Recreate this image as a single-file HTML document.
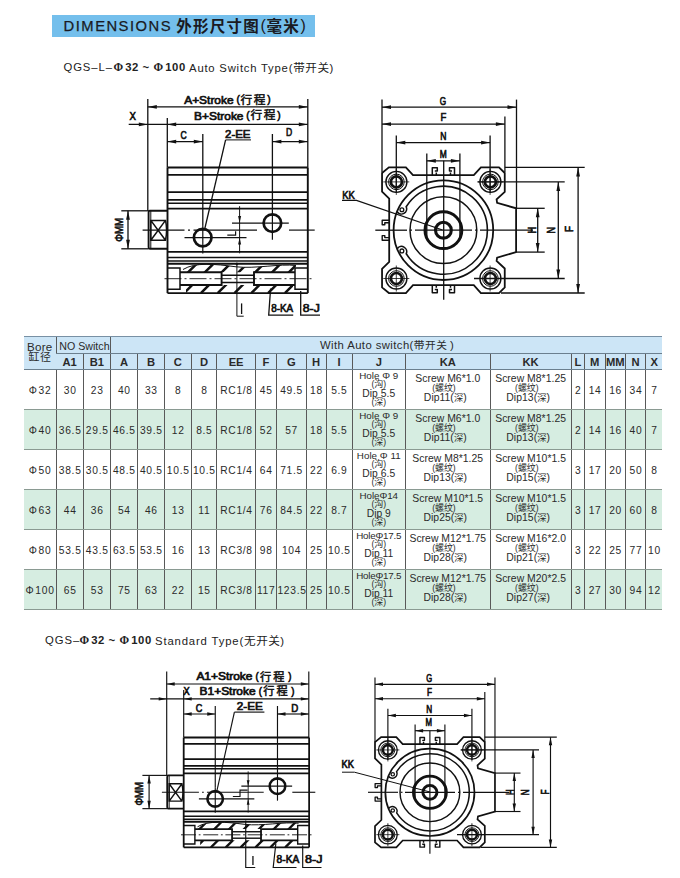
<!DOCTYPE html>
<html lang="en"><head><meta charset="utf-8"><title>DIMENSIONS</title>
<style>
html,body{margin:0;padding:0;background:#fff}
body{width:680px;height:878px;position:relative;overflow:hidden;font-family:"Liberation Sans",sans-serif;color:#222}
.banner{position:absolute;left:51.5px;top:15px;width:263.5px;height:21.8px;background:#74bfec}
.bt{position:absolute;left:63.6px;top:17.7px;font-size:14.8px;letter-spacing:1.47px;color:#1a1a22;white-space:nowrap;line-height:17px;-webkit-text-stroke:.25px #1a1a22}
.bc{position:absolute;left:176.2px;top:17.6px;white-space:nowrap;font-size:16px;line-height:17px;color:#1a1a22}
.bc .c{font-family:"Liberation Sans","Noto Sans CJK SC",sans-serif;font-size:15.5px;letter-spacing:1.25px;font-weight:bold;color:#1a1a22}
.bc .p{font-size:16px;letter-spacing:0;margin:0 .7px 0 .5px;position:relative;top:-.4px}
.sub{position:absolute;white-space:nowrap;font-size:11.3px;line-height:13px;color:#222;letter-spacing:.5px}
.sub span.s{display:inline-block;vertical-align:top}
.sub b{font-weight:bold;letter-spacing:.55px}
.sub .phi{font-family:"Liberation Serif",serif;font-weight:bold;font-size:11.6px;margin-right:1.6px}
.sub .c{font-family:"Liberation Sans","Noto Sans CJK SC",sans-serif;font-size:11.6px;letter-spacing:.5px;color:#222}
svg.draw{position:absolute;left:0;top:0}
svg.draw text{font-family:"Liberation Sans","Noto Sans CJK SC",sans-serif}
table.t{position:absolute;left:23.75px;top:336.3px;width:638.25px;border-collapse:collapse;table-layout:fixed;font-size:10.6px;color:#2a2a2a}
table.t th,table.t td{padding:0;text-align:center;vertical-align:middle;border-left:1px solid #595959;overflow:visible;white-space:nowrap}
table.t tr>*:first-child{border-left:none}
table.t tr.h1 th{height:15.4px;background:#cce5f6;font-weight:normal;font-size:11.3px;border-top:1px solid #7890a4;border-bottom:1px solid #6b7f8e}
table.t tr.h2 th{height:15.6px;background:#cce5f6;font-weight:bold;font-size:11.2px;border-bottom:1px solid #6b7f8e}
table.t tr.h2 th span{position:relative;top:.3px}
table.t th.bore{border-bottom:1px solid #6b7f8e;vertical-align:top}
table.t th.bore .b1{font-size:11.6px;line-height:11px;letter-spacing:.3px;margin-top:3.5px}
table.t th.bore .b2{line-height:10px;height:11px;margin-top:.2px}
table.t th.ws{text-align:left}
.wst{position:relative;left:209px;letter-spacing:.42px}
table.t th.ns span{display:inline-block;transform:scaleX(.92);transform-origin:50% 50%;position:relative;top:.3px;font-size:11.6px}
table.t tr.w td,table.t tr.g td{height:37.6px;padding-top:1.4px;border-bottom:1px solid #8a9a92}
table.t tr.w td.j,table.t tr.g td.j,table.t tr.w td.k,table.t tr.g td.k{height:39px;padding-top:0}
table.t tr.g td{background:#d6ede1}
table.t td{letter-spacing:.72px;text-indent:.7px;font-size:10.25px}
span.cj{font-family:"Liberation Sans","Noto Sans CJK SC",sans-serif;color:#2a2a2a;font-weight:normal}
span.cb{font-size:10.9px;letter-spacing:.6px;margin-left:.3px}
span.ch{font-size:10.7px;letter-spacing:.55px}
span.cs{font-size:9px;letter-spacing:-.1px}
.ph{margin-right:.9px}
.ph2{margin:0 1.5px}
td.j,td.k{vertical-align:top !important}
.jj,.kk{position:relative;height:39px}
.jj>div,.kk>div{position:absolute;left:0;right:0;text-align:center;white-space:nowrap}
td.j{font-size:9.8px !important;letter-spacing:.02px !important;text-indent:0 !important}
.jj .l1{top:1.0px;line-height:10px}
.jj .l2{top:9.9px;line-height:9px;font-size:8.6px}
.jj .l3{top:18.7px;line-height:10px;font-size:10.3px}
.jj .l4{top:27.6px;line-height:9px;font-size:8.6px}
td.k{font-size:10.4px !important;letter-spacing:.03px !important;text-indent:0 !important}
.kk .k1{top:3.85px;line-height:10px}
.kk .k2{top:13.75px;line-height:9px;font-size:8.6px;left:-7.6px}
.kk .k3{top:23.2px;line-height:10px;left:-5px}
.kk .k3 span.cs{font-size:9.4px}
</style></head>
<body>
<div class="banner"></div>
<div class="bt">DIMENSIONS</div>
<div class="bc"><span class="c">外形尺寸图</span><span class="p">(</span><span class="c">毫米</span><span class="p">)</span></div>
<div class="sub" style="left:63.4px;top:60.7px"><span class="s" style="width:50.1px;letter-spacing:.95px">QGS–L–</span><span class="s" style="width:75.6px"><b><span class="phi">Φ</span>32 ~ <span class="phi">Φ</span>100</b></span><span class="s" style="letter-spacing:.78px">Auto Switch Type(<span class="c">带开关</span>)</span></div>
<div class="sub" style="left:45px;top:634px"><span class="s" style="width:34.5px;letter-spacing:.95px">QGS–</span><span class="s" style="width:75.6px"><b><span class="phi">Φ</span>32 ~ <span class="phi">Φ</span>100</b></span><span class="s" style="letter-spacing:.85px">Standard Type(<span class="c">无开关</span>)</span></div>
<table class="t"><colgroup>
<col style="width:32.50px">
<col style="width:27.15px">
<col style="width:27.10px">
<col style="width:27.00px">
<col style="width:27.00px">
<col style="width:26.75px">
<col style="width:25.50px">
<col style="width:38.75px">
<col style="width:20.75px">
<col style="width:30.00px">
<col style="width:19.75px">
<col style="width:26.00px">
<col style="width:53.50px">
<col style="width:84.50px">
<col style="width:81.25px">
<col style="width:13.25px">
<col style="width:20.50px">
<col style="width:20.50px">
<col style="width:20.25px">
<col style="width:16.25px">
</colgroup>
<tr class="h1"><th rowspan="2" class="bore"><div class="b1">Bore</div><div class="b2"><span class="cj cb">缸径</span></div></th><th colspan="2" class="ns"><span>NO Switch</span></th><th colspan="17" class="ws"><span class="wst">With Auto switch(<span class="cj ch">带开关</span><span style="margin-left:2.6px">)</span></span></th></tr>
<tr class="h2"><th><span>A1</span></th><th><span>B1</span></th><th><span>A</span></th><th><span>B</span></th><th><span>C</span></th><th><span>D</span></th><th><span>EE</span></th><th><span>F</span></th><th><span>G</span></th><th><span>H</span></th><th><span>I</span></th><th><span>J</span></th><th><span>KA</span></th><th><span>KK</span></th><th><span>L</span></th><th><span>M</span></th><th><span>MM</span></th><th><span>N</span></th><th><span>X</span></th></tr>
<tr class="w"><td class="bo"><span class="ph">Φ</span>32</td><td>30</td><td>23</td><td>40</td><td>33</td><td>8</td><td>8</td><td>RC1/8</td><td>45</td><td>49.5</td><td>18</td><td>5.5</td><td class="j"><div class="jj"><div class="l1">Hole Φ 9</div><div class="l2">(<span class="cj cs">沟</span>)</div><div class="l3">Dip 5.5</div><div class="l4">(<span class="cj cs">深</span>)</div></div></td><td class="k"><div class="kk"><div class="k1">Screw M6*1.0</div><div class="k2">(<span class="cj cs">螺纹</span>)</div><div class="k3">Dip11(<span class="cj cs">深</span>)</div></div></td><td class="k"><div class="kk"><div class="k1">Screw M8*1.25</div><div class="k2">(<span class="cj cs">螺纹</span>)</div><div class="k3">Dip13(<span class="cj cs">深</span>)</div></div></td><td>2</td><td>14</td><td>16</td><td>34</td><td>7</td></tr>
<tr class="g"><td class="bo"><span class="ph">Φ</span>40</td><td>36.5</td><td>29.5</td><td>46.5</td><td>39.5</td><td>12</td><td>8.5</td><td>RC1/8</td><td>52</td><td>57</td><td>18</td><td>5.5</td><td class="j"><div class="jj"><div class="l1">Hole Φ 9</div><div class="l2">(<span class="cj cs">沟</span>)</div><div class="l3">Dip 5.5</div><div class="l4">(<span class="cj cs">深</span>)</div></div></td><td class="k"><div class="kk"><div class="k1">Screw M6*1.0</div><div class="k2">(<span class="cj cs">螺纹</span>)</div><div class="k3">Dip11(<span class="cj cs">深</span>)</div></div></td><td class="k"><div class="kk"><div class="k1">Screw M8*1.25</div><div class="k2">(<span class="cj cs">螺纹</span>)</div><div class="k3">Dip13(<span class="cj cs">深</span>)</div></div></td><td>2</td><td>14</td><td>16</td><td>40</td><td>7</td></tr>
<tr class="w"><td class="bo"><span class="ph">Φ</span>50</td><td>38.5</td><td>30.5</td><td>48.5</td><td>40.5</td><td>10.5</td><td>10.5</td><td>RC1/4</td><td>64</td><td>71.5</td><td>22</td><td>6.9</td><td class="j"><div class="jj"><div class="l1">Hole Φ 11</div><div class="l2">(<span class="cj cs">沟</span>)</div><div class="l3">Dip 6.5</div><div class="l4">(<span class="cj cs">深</span>)</div></div></td><td class="k"><div class="kk"><div class="k1">Screw M8*1.25</div><div class="k2">(<span class="cj cs">螺纹</span>)</div><div class="k3">Dip13(<span class="cj cs">深</span>)</div></div></td><td class="k"><div class="kk"><div class="k1">Screw M10*1.5</div><div class="k2">(<span class="cj cs">螺纹</span>)</div><div class="k3">Dip15(<span class="cj cs">深</span>)</div></div></td><td>3</td><td>17</td><td>20</td><td>50</td><td>8</td></tr>
<tr class="g"><td class="bo"><span class="ph">Φ</span>63</td><td>44</td><td>36</td><td>54</td><td>46</td><td>13</td><td>11</td><td>RC1/4</td><td>76</td><td>84.5</td><td>22</td><td>8.7</td><td class="j"><div class="jj"><div class="l1" style="letter-spacing:-.08px">HoleΦ14</div><div class="l2">(<span class="cj cs">沟</span>)</div><div class="l3">Dip 9</div><div class="l4">(<span class="cj cs">深</span>)</div></div></td><td class="k"><div class="kk"><div class="k1">Screw M10*1.5</div><div class="k2">(<span class="cj cs">螺纹</span>)</div><div class="k3">Dip25(<span class="cj cs">深</span>)</div></div></td><td class="k"><div class="kk"><div class="k1">Screw M10*1.5</div><div class="k2">(<span class="cj cs">螺纹</span>)</div><div class="k3">Dip15(<span class="cj cs">深</span>)</div></div></td><td>3</td><td>17</td><td>20</td><td>60</td><td>8</td></tr>
<tr class="w"><td class="bo"><span class="ph">Φ</span>80</td><td>53.5</td><td>43.5</td><td>63.5</td><td>53.5</td><td>16</td><td>13</td><td>RC3/8</td><td>98</td><td>104</td><td>25</td><td>10.5</td><td class="j"><div class="jj"><div class="l1" style="letter-spacing:-.2px">HoleΦ17.5</div><div class="l2">(<span class="cj cs">沟</span>)</div><div class="l3">Dip 11</div><div class="l4">(<span class="cj cs">深</span>)</div></div></td><td class="k"><div class="kk"><div class="k1">Screw M12*1.75</div><div class="k2">(<span class="cj cs">螺纹</span>)</div><div class="k3">Dip28(<span class="cj cs">深</span>)</div></div></td><td class="k"><div class="kk"><div class="k1">Screw M16*2.0</div><div class="k2">(<span class="cj cs">螺纹</span>)</div><div class="k3">Dip21(<span class="cj cs">深</span>)</div></div></td><td>3</td><td>22</td><td>25</td><td>77</td><td>10</td></tr>
<tr class="g"><td class="bo"><span class="ph">Φ</span>100</td><td>65</td><td>53</td><td>75</td><td>63</td><td>22</td><td>15</td><td>RC3/8</td><td>117</td><td>123.5</td><td>25</td><td>10.5</td><td class="j"><div class="jj"><div class="l1" style="letter-spacing:-.2px">HoleΦ17.5</div><div class="l2">(<span class="cj cs">沟</span>)</div><div class="l3">Dip 11</div><div class="l4">(<span class="cj cs">深</span>)</div></div></td><td class="k"><div class="kk"><div class="k1">Screw M12*1.75</div><div class="k2">(<span class="cj cs">螺纹</span>)</div><div class="k3">Dip28(<span class="cj cs">深</span>)</div></div></td><td class="k"><div class="kk"><div class="k1">Screw M20*2.5</div><div class="k2">(<span class="cj cs">螺纹</span>)</div><div class="k3">Dip27(<span class="cj cs">深</span>)</div></div></td><td>3</td><td>27</td><td>30</td><td>94</td><td>12</td></tr>
</table>
<svg class="draw" width="680" height="878" viewBox="0 0 680 878">
<line x1="167.50" y1="167.50" x2="307.80" y2="167.50" stroke="#111" stroke-width="1.9"/>
<line x1="167.50" y1="174.85" x2="307.80" y2="174.85" stroke="#111" stroke-width="1.9"/>
<line x1="167.50" y1="192.10" x2="307.80" y2="192.10" stroke="#111" stroke-width="1.9"/>
<line x1="167.50" y1="199.90" x2="307.80" y2="199.90" stroke="#111" stroke-width="1.9"/>
<line x1="167.50" y1="203.20" x2="307.80" y2="203.20" stroke="#111" stroke-width="1.5"/>
<line x1="167.50" y1="208.60" x2="307.80" y2="208.60" stroke="#111" stroke-width="1.9"/>
<line x1="167.50" y1="251.90" x2="307.80" y2="251.90" stroke="#111" stroke-width="1.9"/>
<line x1="167.50" y1="257.50" x2="307.80" y2="257.50" stroke="#111" stroke-width="1.5"/>
<line x1="167.50" y1="261.00" x2="307.80" y2="261.00" stroke="#111" stroke-width="1.5"/>
<line x1="167.50" y1="263.80" x2="307.80" y2="263.80" stroke="#111" stroke-width="1.9"/>
<line x1="167.50" y1="293.10" x2="307.80" y2="293.10" stroke="#111" stroke-width="1.9"/>
<line x1="167.50" y1="167.50" x2="167.50" y2="293.10" stroke="#111" stroke-width="1.9"/>
<line x1="307.80" y1="167.50" x2="307.80" y2="293.10" stroke="#111" stroke-width="1.9"/>
<circle cx="202.70" cy="237.60" r="8.80" fill="none" stroke="#111" stroke-width="2.7"/>
<circle cx="272.40" cy="223.10" r="8.80" fill="none" stroke="#111" stroke-width="2.7"/>
<line x1="142.60" y1="230.10" x2="184.50" y2="230.10" stroke="#111" stroke-width="1.2"/>
<line x1="188.00" y1="230.10" x2="190.00" y2="230.10" stroke="#111" stroke-width="1.2"/>
<line x1="193.50" y1="230.10" x2="257.00" y2="230.10" stroke="#111" stroke-width="1.2"/>
<line x1="289.00" y1="230.10" x2="314.70" y2="230.10" stroke="#111" stroke-width="1.2"/>
<line x1="184.50" y1="237.60" x2="246.50" y2="237.60" stroke="#111" stroke-width="1.2"/>
<line x1="232.00" y1="223.10" x2="288.80" y2="223.10" stroke="#111" stroke-width="1.2"/>
<line x1="202.80" y1="225.00" x2="202.80" y2="253.50" stroke="#111" stroke-width="1.2"/>
<line x1="272.40" y1="208.00" x2="272.40" y2="239.70" stroke="#111" stroke-width="1.2"/>
<path d="M227.30,235.20 H235.60 V231.30" fill="none" stroke="#111" stroke-width="1.2" />
<path d="M167.50,210.80 H149.80 Q148.60,210.80 148.60,212.30 V247.30 Q148.60,248.80 149.80,248.80 H167.50" fill="none" stroke="#111" stroke-width="1.9" />
<line x1="150.80" y1="210.80" x2="150.80" y2="248.80" stroke="#111" stroke-width="1.0"/>
<path d="M150.80,220.40 H165.50 Q167.70,230.30 165.50,240.20 H150.80 Z M150.80,220.40 L165.50,240.20 M165.50,220.40 L150.80,240.20" fill="none" stroke="#111" stroke-width="1.5" />
<path d="M167.50,268.00 H180.00 V289.30 H167.50" fill="none" stroke="#111" stroke-width="1.5" />
<path d="M307.80,268.00 H295.00 V289.30 H307.80" fill="none" stroke="#111" stroke-width="1.5" />
<path d="M180.00,272.20 H221.60 V285.00 H180.00" fill="none" stroke="#111" stroke-width="1.9" />
<path d="M295.00,272.20 H254.00 V285.00 H295.00" fill="none" stroke="#111" stroke-width="1.9" />
<line x1="221.60" y1="275.20" x2="254.00" y2="275.20" stroke="#111" stroke-width="1.5"/>
<line x1="221.60" y1="282.60" x2="254.00" y2="282.60" stroke="#111" stroke-width="1.5"/>
<line x1="164.50" y1="278.70" x2="311.80" y2="278.70" stroke="#111" stroke-width="0.9" stroke-dasharray="17.0 3.0 2.0 3.0"/>
<clipPath id="hc167167a"><path d="M183.00,269.50 C195.00,262.00 215.00,264.00 236.00,266.80 C255.00,269.00 280.00,263.50 296.00,265.50 L295.00,272.20 H180.00 Z"/></clipPath>
<clipPath id="hc167167b"><rect x="186.00" y="285.00" width="107.00" height="8.10"/></clipPath>
<path d="M150.50,293.10 L179.80,263.80 M167.30,293.10 L196.60,263.80 M184.10,293.10 L213.40,263.80 M200.90,293.10 L230.20,263.80 M217.70,293.10 L247.00,263.80 M234.50,293.10 L263.80,263.80 M251.30,293.10 L280.60,263.80 M268.10,293.10 L297.40,263.80 M284.90,293.10 L314.20,263.80 M301.70,293.10 L331.00,263.80 M318.50,293.10 L347.80,263.80" stroke="#111" stroke-width="2.50" clip-path="url(#hc167167a)"/>
<path d="M150.50,293.10 L179.80,263.80 M167.30,293.10 L196.60,263.80 M184.10,293.10 L213.40,263.80 M200.90,293.10 L230.20,263.80 M217.70,293.10 L247.00,263.80 M234.50,293.10 L263.80,263.80 M251.30,293.10 L280.60,263.80 M268.10,293.10 L297.40,263.80 M284.90,293.10 L314.20,263.80 M301.70,293.10 L331.00,263.80 M318.50,293.10 L347.80,263.80" stroke="#111" stroke-width="2.50" clip-path="url(#hc167167b)"/>
<path d="M183.00,269.50 C195.00,262.00 215.00,264.00 236.00,266.80 C255.00,269.00 280.00,263.50 296.00,265.50" fill="none" stroke="#111" stroke-width="1.0" />
<line x1="147.80" y1="99.00" x2="147.80" y2="210.80" stroke="#111" stroke-width="1.3"/>
<line x1="307.80" y1="99.00" x2="307.80" y2="167.50" stroke="#111" stroke-width="1.3"/>
<line x1="147.80" y1="106.90" x2="307.80" y2="106.90" stroke="#111" stroke-width="1.3"/>
<polygon points="147.80,106.90 156.80,105.00 156.80,108.80" fill="#111"/>
<polygon points="307.80,106.90 298.80,105.00 298.80,108.80" fill="#111"/>
<line x1="167.30" y1="118.00" x2="167.30" y2="167.50" stroke="#111" stroke-width="1.3"/>
<line x1="128.70" y1="124.40" x2="307.80" y2="124.40" stroke="#111" stroke-width="1.3"/>
<polygon points="147.80,124.40 138.80,122.50 138.80,126.30" fill="#111"/>
<polygon points="167.20,124.40 176.20,122.50 176.20,126.30" fill="#111"/>
<polygon points="307.80,124.40 298.80,122.50 298.80,126.30" fill="#111"/>
<line x1="202.80" y1="134.00" x2="202.80" y2="225.00" stroke="#111" stroke-width="1.3"/>
<line x1="167.20" y1="141.60" x2="202.80" y2="141.60" stroke="#111" stroke-width="1.3"/>
<polygon points="167.20,141.60 176.20,139.70 176.20,143.50" fill="#111"/>
<polygon points="202.80,141.60 193.80,139.70 193.80,143.50" fill="#111"/>
<line x1="272.40" y1="134.00" x2="272.40" y2="208.00" stroke="#111" stroke-width="1.3"/>
<line x1="272.40" y1="141.60" x2="307.80" y2="141.60" stroke="#111" stroke-width="1.3"/>
<polygon points="272.40,141.60 281.40,139.70 281.40,143.50" fill="#111"/>
<polygon points="307.80,141.60 298.80,139.70 298.80,143.50" fill="#111"/>
<line x1="225.60" y1="139.90" x2="251.00" y2="139.90" stroke="#111" stroke-width="1.0"/>
<line x1="225.60" y1="139.90" x2="204.60" y2="229.50" stroke="#111" stroke-width="1.3"/>
<line x1="121.30" y1="210.80" x2="148.60" y2="210.80" stroke="#111" stroke-width="1.3"/>
<line x1="121.30" y1="248.80" x2="148.60" y2="248.80" stroke="#111" stroke-width="1.3"/>
<line x1="128.00" y1="210.80" x2="128.00" y2="248.80" stroke="#111" stroke-width="1.3"/>
<polygon points="128.00,210.80 126.10,219.80 129.90,219.80" fill="#111"/>
<polygon points="128.00,248.80 126.10,239.80 129.90,239.80" fill="#111"/>
<line x1="239.60" y1="206.20" x2="239.60" y2="253.30" stroke="#111" stroke-width="1.0"/>
<polygon points="239.60,223.10 238.10,216.10 241.10,216.10" fill="#111"/>
<polygon points="239.60,237.60 238.10,244.60 241.10,244.60" fill="#111"/>
<path d="M236.9,262.5 V316.2 H243.7" fill="none" stroke="#111" stroke-width="1.0" />
<circle cx="236.90" cy="264.30" r="0.90" fill="#111" stroke="#111" stroke-width="0.5"/>
<line x1="241.60" y1="303.40" x2="241.60" y2="314.00" stroke="#111" stroke-width="1.3"/>
<path d="M270.6,288.5 L268.7,315.2 H293.2" fill="none" stroke="#111" stroke-width="1.3" />
<path d="M300.7,291 V315.2 H320" fill="none" stroke="#111" stroke-width="1.3" />
<text x="184.20" y="103.60" font-size="11.7" font-weight="normal" fill="#111" stroke="#111" stroke-width="0.7" textLength="49.40" lengthAdjust="spacingAndGlyphs">A+Stroke</text>
<text x="240.50" y="103.50" font-size="11.7" font-weight="normal" fill="#111" stroke="#111" stroke-width="0.5" letter-spacing="1.6">行程</text>
<text x="236.40" y="103.40" font-size="11.7" font-weight="normal" fill="#111" stroke="#111" stroke-width="0.7" textLength="3.40" lengthAdjust="spacingAndGlyphs">(</text>
<text x="267.30" y="103.40" font-size="11.7" font-weight="normal" fill="#111" stroke="#111" stroke-width="0.7" textLength="3.40" lengthAdjust="spacingAndGlyphs">)</text>
<text x="194.10" y="119.50" font-size="11.7" font-weight="normal" fill="#111" stroke="#111" stroke-width="0.7" textLength="49.40" lengthAdjust="spacingAndGlyphs">B+Stroke</text>
<text x="250.40" y="119.40" font-size="11.7" font-weight="normal" fill="#111" stroke="#111" stroke-width="0.5" letter-spacing="1.6">行程</text>
<text x="246.30" y="119.30" font-size="11.7" font-weight="normal" fill="#111" stroke="#111" stroke-width="0.7" textLength="3.40" lengthAdjust="spacingAndGlyphs">(</text>
<text x="277.20" y="119.30" font-size="11.7" font-weight="normal" fill="#111" stroke="#111" stroke-width="0.7" textLength="3.40" lengthAdjust="spacingAndGlyphs">)</text>
<text x="129.50" y="120.00" font-size="11.7" font-weight="normal" fill="#111" stroke="#111" stroke-width="0.7" textLength="6.40" lengthAdjust="spacingAndGlyphs">X</text>
<text x="180.50" y="138.60" font-size="11.7" font-weight="normal" fill="#111" stroke="#111" stroke-width="0.7" textLength="6.20" lengthAdjust="spacingAndGlyphs">C</text>
<text x="286.00" y="136.20" font-size="11.7" font-weight="normal" fill="#111" stroke="#111" stroke-width="0.7" textLength="6.20" lengthAdjust="spacingAndGlyphs">D</text>
<text x="225.00" y="138.20" font-size="11.7" font-weight="normal" fill="#111" stroke="#111" stroke-width="0.7" textLength="25.50" lengthAdjust="spacingAndGlyphs">2-EE</text>
<text x="342.30" y="199.00" font-size="11.7" font-weight="normal" fill="#111" stroke="#111" stroke-width="0.7" textLength="12.60" lengthAdjust="spacingAndGlyphs">KK</text>
<text x="271.20" y="311.60" font-size="11.7" font-weight="normal" fill="#111" stroke="#111" stroke-width="0.7" textLength="22.00" lengthAdjust="spacingAndGlyphs">8-KA</text>
<text x="302.80" y="311.60" font-size="11.7" font-weight="normal" fill="#111" stroke="#111" stroke-width="0.7" textLength="17.00" lengthAdjust="spacingAndGlyphs">8-J</text>
<text transform="translate(123.20,241.70) rotate(-90)" font-size="11.8" font-weight="normal" fill="#111" stroke="#111" stroke-width="0.7" textLength="23.80" lengthAdjust="spacingAndGlyphs">ΦMM</text>
<g transform="translate(443.40,230.20) scale(1.0000,1.0000)"><path d="M-61.35,-57.20 L-54.50,-62.85 L-37.50,-62.85 L-30.40,-55.00 L30.40,-55.00 L37.50,-62.85 L55.60,-62.85 L61.35,-57.20 L61.35,-38.30 L53.20,-30.80 L53.70,-27.40 L72.70,-21.90 L72.70,21.90 L53.70,27.40 L53.20,30.80 L61.35,38.30 L61.35,57.20 L55.60,62.85 L37.50,62.85 L30.40,55.00 L-30.40,55.00 L-37.50,62.85 L-54.50,62.85 L-61.35,57.20 L-61.35,38.60 L-54.20,31.60 L-54.20,-31.60 L-61.35,-38.60 Z" fill="none" stroke="#111" stroke-width="1.8" stroke-linejoin="miter"/>
<circle cx="0.00" cy="0.00" r="7.90" fill="none" stroke="#111" stroke-width="3.1"/>
<circle cx="0.00" cy="0.00" r="18.40" fill="none" stroke="#111" stroke-width="3.0"/>
<circle cx="0.00" cy="0.00" r="33.40" fill="none" stroke="#111" stroke-width="1.5"/>
<circle cx="0.00" cy="0.00" r="49.80" fill="none" stroke="#111" stroke-width="1.8"/>
<path d="M-46.22,18.53 A5.20,5.20 0 0 1 -37.16,23.56 A44.00,44.00 0 1 0 -37.22,-23.46 A5.20,5.20 0 0 1 -46.27,-18.42" fill="none" stroke="#111" stroke-width="1.6" />
<circle cx="-41.50" cy="-20.50" r="1.90" fill="none" stroke="#111" stroke-width="1.3"/>
<circle cx="-41.50" cy="20.70" r="1.90" fill="none" stroke="#111" stroke-width="1.3"/>
<circle cx="-47.00" cy="-48.30" r="10.50" fill="none" stroke="#111" stroke-width="1.4"/>
<circle cx="-47.00" cy="-48.30" r="7.80" fill="none" stroke="#111" stroke-width="1.0"/>
<circle cx="-47.00" cy="-48.30" r="5.50" fill="none" stroke="#111" stroke-width="2.7"/>
<circle cx="-47.00" cy="48.30" r="10.50" fill="none" stroke="#111" stroke-width="1.4"/>
<circle cx="-47.00" cy="48.30" r="7.80" fill="none" stroke="#111" stroke-width="1.0"/>
<circle cx="-47.00" cy="48.30" r="5.50" fill="none" stroke="#111" stroke-width="2.7"/>
<circle cx="47.00" cy="-48.30" r="10.50" fill="none" stroke="#111" stroke-width="1.4"/>
<circle cx="47.00" cy="-48.30" r="7.80" fill="none" stroke="#111" stroke-width="1.0"/>
<circle cx="47.00" cy="-48.30" r="5.50" fill="none" stroke="#111" stroke-width="2.7"/>
<circle cx="47.00" cy="48.30" r="10.50" fill="none" stroke="#111" stroke-width="1.4"/>
<circle cx="47.00" cy="48.30" r="7.80" fill="none" stroke="#111" stroke-width="1.0"/>
<circle cx="47.00" cy="48.30" r="5.50" fill="none" stroke="#111" stroke-width="2.7"/>
<path d="M-11.10,-55.00 V-62.55 H-6.10 V-59.25 H-8.60 M-7.10,-57.60 V-55.00" fill="none" stroke="#111" stroke-width="1.5" stroke-linejoin="round"/>
<path d="M11.10,-55.00 V-62.55 H6.10 V-59.25 H8.60 M7.10,-57.60 V-55.00" fill="none" stroke="#111" stroke-width="1.5" stroke-linejoin="round"/>
<path d="M-11.10,55.00 V62.55 H-6.10 V59.25 H-8.60 M-7.10,57.60 V55.00" fill="none" stroke="#111" stroke-width="1.5" stroke-linejoin="round"/>
<path d="M11.10,55.00 V62.55 H6.10 V59.25 H8.60 M7.10,57.60 V55.00" fill="none" stroke="#111" stroke-width="1.5" stroke-linejoin="round"/>
<path d="M-54.20,-10.00 H-61.20 V-5.40 H-58.60 V-7.40 H-54.20" fill="none" stroke="#111" stroke-width="1.4" stroke-linejoin="round"/>
<path d="M-54.20,10.00 H-61.20 V5.40 H-58.60 V7.40 H-54.20" fill="none" stroke="#111" stroke-width="1.4" stroke-linejoin="round"/></g>
<line x1="382.00" y1="99.60" x2="382.00" y2="172.00" stroke="#111" stroke-width="1.3"/>
<line x1="516.50" y1="99.60" x2="516.50" y2="208.30" stroke="#111" stroke-width="1.3"/>
<line x1="382.00" y1="107.20" x2="516.50" y2="107.20" stroke="#111" stroke-width="1.3"/>
<polygon points="382.00,107.20 391.00,105.30 391.00,109.10" fill="#111"/>
<polygon points="516.50,107.20 507.50,105.30 507.50,109.10" fill="#111"/>
<line x1="504.90" y1="116.50" x2="504.90" y2="172.00" stroke="#111" stroke-width="1.3"/>
<line x1="382.00" y1="124.10" x2="504.90" y2="124.10" stroke="#111" stroke-width="1.3"/>
<polygon points="382.00,124.10 391.00,122.20 391.00,126.00" fill="#111"/>
<polygon points="504.90,124.10 495.90,122.20 495.90,126.00" fill="#111"/>
<line x1="396.30" y1="135.50" x2="396.30" y2="193.00" stroke="#111" stroke-width="1.3"/>
<line x1="490.10" y1="135.50" x2="490.10" y2="193.00" stroke="#111" stroke-width="1.3"/>
<line x1="396.30" y1="142.60" x2="490.10" y2="142.60" stroke="#111" stroke-width="1.3"/>
<polygon points="396.30,142.60 405.30,140.70 405.30,144.50" fill="#111"/>
<polygon points="490.10,142.60 481.10,140.70 481.10,144.50" fill="#111"/>
<line x1="426.80" y1="153.50" x2="426.80" y2="237.00" stroke="#111" stroke-width="1.3"/>
<line x1="459.90" y1="153.50" x2="459.90" y2="237.00" stroke="#111" stroke-width="1.3"/>
<line x1="426.80" y1="160.80" x2="459.90" y2="160.80" stroke="#111" stroke-width="1.3"/>
<polygon points="426.80,160.80 435.80,158.90 435.80,162.70" fill="#111"/>
<polygon points="459.90,160.80 450.90,158.90 450.90,162.70" fill="#111"/>
<line x1="443.70" y1="160.80" x2="443.70" y2="299.80" stroke="#111" stroke-width="1.3"/>
<line x1="375.30" y1="230.20" x2="407.00" y2="230.20" stroke="#111" stroke-width="1.3"/>
<line x1="410.00" y1="230.20" x2="412.00" y2="230.20" stroke="#111" stroke-width="1.3"/>
<line x1="415.00" y1="230.20" x2="472.00" y2="230.20" stroke="#111" stroke-width="1.3"/>
<line x1="475.00" y1="230.20" x2="477.00" y2="230.20" stroke="#111" stroke-width="1.3"/>
<line x1="480.00" y1="230.20" x2="533.00" y2="230.20" stroke="#111" stroke-width="1.3"/>
<line x1="504.90" y1="167.40" x2="584.70" y2="167.40" stroke="#111" stroke-width="1.3"/>
<line x1="501.00" y1="293.00" x2="584.70" y2="293.00" stroke="#111" stroke-width="1.3"/>
<line x1="578.10" y1="167.40" x2="578.10" y2="293.00" stroke="#111" stroke-width="1.3"/>
<polygon points="578.10,167.40 576.20,176.40 580.00,176.40" fill="#111"/>
<polygon points="578.10,293.00 576.20,284.00 580.00,284.00" fill="#111"/>
<line x1="478.00" y1="181.90" x2="564.70" y2="181.90" stroke="#111" stroke-width="1.3"/>
<line x1="474.00" y1="278.50" x2="564.70" y2="278.50" stroke="#111" stroke-width="1.3"/>
<line x1="558.30" y1="181.90" x2="558.30" y2="278.50" stroke="#111" stroke-width="1.3"/>
<polygon points="558.30,181.90 556.40,190.90 560.20,190.90" fill="#111"/>
<polygon points="558.30,278.50 556.40,269.50 560.20,269.50" fill="#111"/>
<line x1="516.50" y1="208.30" x2="544.70" y2="208.30" stroke="#111" stroke-width="1.3"/>
<line x1="516.50" y1="252.10" x2="544.70" y2="252.10" stroke="#111" stroke-width="1.3"/>
<line x1="537.70" y1="208.30" x2="537.70" y2="252.10" stroke="#111" stroke-width="1.3"/>
<polygon points="537.70,208.30 535.80,217.30 539.60,217.30" fill="#111"/>
<polygon points="537.70,252.10 535.80,243.10 539.60,243.10" fill="#111"/>
<line x1="383.30" y1="181.90" x2="409.30" y2="181.90" stroke="#111" stroke-width="0.8"/>
<line x1="396.30" y1="168.90" x2="396.30" y2="194.90" stroke="#111" stroke-width="0.8"/>
<line x1="383.30" y1="278.50" x2="409.30" y2="278.50" stroke="#111" stroke-width="0.8"/>
<line x1="396.30" y1="265.50" x2="396.30" y2="291.50" stroke="#111" stroke-width="0.8"/>
<line x1="477.10" y1="181.90" x2="503.10" y2="181.90" stroke="#111" stroke-width="0.8"/>
<line x1="490.10" y1="168.90" x2="490.10" y2="194.90" stroke="#111" stroke-width="0.8"/>
<line x1="477.10" y1="278.50" x2="503.10" y2="278.50" stroke="#111" stroke-width="0.8"/>
<line x1="490.10" y1="265.50" x2="490.10" y2="291.50" stroke="#111" stroke-width="0.8"/>
<path d="M342,200.4 H356.5 L442.5,230.0" fill="none" stroke="#111" stroke-width="1.3" />
<text x="439.80" y="104.60" font-size="11.7" font-weight="normal" fill="#111" stroke="#111" stroke-width="0.7" textLength="6.40" lengthAdjust="spacingAndGlyphs">G</text>
<text x="440.40" y="121.40" font-size="11.7" font-weight="normal" fill="#111" stroke="#111" stroke-width="0.7" textLength="5.80" lengthAdjust="spacingAndGlyphs">F</text>
<text x="440.20" y="140.00" font-size="11.7" font-weight="normal" fill="#111" stroke="#111" stroke-width="0.7" textLength="6.20" lengthAdjust="spacingAndGlyphs">N</text>
<text x="439.80" y="158.20" font-size="11.7" font-weight="normal" fill="#111" stroke="#111" stroke-width="0.7" textLength="7.00" lengthAdjust="spacingAndGlyphs">M</text>
<text transform="translate(535.60,233.60) rotate(-90)" font-size="11.7" font-weight="normal" fill="#111" stroke="#111" stroke-width="0.7" textLength="6.80" lengthAdjust="spacingAndGlyphs">H</text>
<text transform="translate(554.60,233.60) rotate(-90)" font-size="11.7" font-weight="normal" fill="#111" stroke="#111" stroke-width="0.7" textLength="6.60" lengthAdjust="spacingAndGlyphs">N</text>
<text transform="translate(573.40,232.00) rotate(-90)" font-size="11.7" font-weight="normal" fill="#111" stroke="#111" stroke-width="0.7" textLength="6.00" lengthAdjust="spacingAndGlyphs">F</text>
<line x1="183.70" y1="737.50" x2="309.13" y2="737.50" stroke="#111" stroke-width="1.7869093429718252"/>
<line x1="183.70" y1="743.93" x2="309.13" y2="743.93" stroke="#111" stroke-width="1.7869093429718252"/>
<line x1="183.70" y1="759.02" x2="309.13" y2="759.02" stroke="#111" stroke-width="1.7869093429718252"/>
<line x1="183.70" y1="765.85" x2="309.13" y2="765.85" stroke="#111" stroke-width="1.7869093429718252"/>
<line x1="183.70" y1="768.74" x2="309.13" y2="768.74" stroke="#111" stroke-width="1.4107179023461778"/>
<line x1="183.70" y1="773.46" x2="309.13" y2="773.46" stroke="#111" stroke-width="1.7869093429718252"/>
<line x1="183.70" y1="811.35" x2="309.13" y2="811.35" stroke="#111" stroke-width="1.7869093429718252"/>
<line x1="183.70" y1="816.25" x2="309.13" y2="816.25" stroke="#111" stroke-width="1.4107179023461778"/>
<line x1="183.70" y1="819.31" x2="309.13" y2="819.31" stroke="#111" stroke-width="1.4107179023461778"/>
<line x1="183.70" y1="821.76" x2="309.13" y2="821.76" stroke="#111" stroke-width="1.7869093429718252"/>
<line x1="183.70" y1="847.40" x2="309.13" y2="847.40" stroke="#111" stroke-width="1.7869093429718252"/>
<line x1="183.70" y1="737.50" x2="183.70" y2="847.40" stroke="#111" stroke-width="1.7869093429718252"/>
<line x1="309.13" y1="737.50" x2="309.13" y2="847.40" stroke="#111" stroke-width="1.7869093429718252"/>
<circle cx="215.17" cy="798.84" r="7.78" fill="none" stroke="#111" stroke-width="2.53929222422312"/>
<circle cx="277.48" cy="786.15" r="7.78" fill="none" stroke="#111" stroke-width="2.53929222422312"/>
<line x1="161.89" y1="792.27" x2="198.90" y2="792.27" stroke="#111" stroke-width="1.1285743218769422"/>
<line x1="202.03" y1="792.27" x2="203.81" y2="792.27" stroke="#111" stroke-width="1.1285743218769422"/>
<line x1="206.94" y1="792.27" x2="263.71" y2="792.27" stroke="#111" stroke-width="1.1285743218769422"/>
<line x1="292.32" y1="792.27" x2="315.30" y2="792.27" stroke="#111" stroke-width="1.1285743218769422"/>
<line x1="198.90" y1="798.84" x2="254.33" y2="798.84" stroke="#111" stroke-width="1.1285743218769422"/>
<line x1="241.36" y1="786.15" x2="292.14" y2="786.15" stroke="#111" stroke-width="1.1285743218769422"/>
<line x1="215.26" y1="787.81" x2="215.26" y2="812.75" stroke="#111" stroke-width="1.1285743218769422"/>
<line x1="277.48" y1="772.94" x2="277.48" y2="800.67" stroke="#111" stroke-width="1.1285743218769422"/>
<path d="M232.87,796.56 H240.02 V790.09 H247.62" fill="none" stroke="#111" stroke-width="1.1285743218769422" />
<path d="M183.70,775.39 H168.40 Q167.20,775.39 167.20,776.89 V807.14 Q167.20,808.64 168.40,808.64 H183.70" fill="none" stroke="#111" stroke-width="1.7869093429718252" />
<line x1="169.15" y1="775.39" x2="169.15" y2="808.64" stroke="#111" stroke-width="1.0"/>
<path d="M169.15,783.79 H181.93 Q183.88,792.45 181.93,801.11 H169.15 Z M169.15,783.79 L181.93,801.11 M181.93,783.79 L169.15,801.11" fill="none" stroke="#111" stroke-width="1.4107179023461778" />
<path d="M183.70,825.44 H194.88 V844.08 H183.70" fill="none" stroke="#111" stroke-width="1.4107179023461778" />
<path d="M309.13,825.44 H297.69 V844.08 H309.13" fill="none" stroke="#111" stroke-width="1.4107179023461778" />
<path d="M194.88,829.11 H232.07 V840.31 H194.88" fill="none" stroke="#111" stroke-width="1.7869093429718252" />
<path d="M297.69,829.11 H261.03 V840.31 H297.69" fill="none" stroke="#111" stroke-width="1.7869093429718252" />
<line x1="232.07" y1="831.74" x2="261.03" y2="831.74" stroke="#111" stroke-width="1.4107179023461778"/>
<line x1="232.07" y1="838.21" x2="261.03" y2="838.21" stroke="#111" stroke-width="1.4107179023461778"/>
<line x1="181.02" y1="834.80" x2="312.70" y2="834.80" stroke="#111" stroke-width="0.9" stroke-dasharray="15.0 2.7 1.8 2.7"/>
<clipPath id="hc183737a"><path d="M197.56,826.75 C208.28,820.19 226.16,821.94 244.94,824.39 C261.93,826.31 284.27,821.50 298.58,823.25 L297.69,829.11 H194.88 Z"/></clipPath>
<clipPath id="hc183737b"><rect x="200.18" y="840.31" width="95.73" height="7.09"/></clipPath>
<path d="M166.35,847.40 L191.99,821.76 M181.21,847.40 L206.85,821.76 M196.07,847.40 L221.71,821.76 M210.93,847.40 L236.57,821.76 M225.79,847.40 L251.43,821.76 M240.65,847.40 L266.29,821.76 M255.51,847.40 L281.15,821.76 M270.37,847.40 L296.01,821.76 M285.23,847.40 L310.87,821.76 M300.09,847.40 L325.73,821.76 M314.95,847.40 L340.59,821.76" stroke="#111" stroke-width="2.35" clip-path="url(#hc183737a)"/>
<path d="M166.35,847.40 L191.99,821.76 M181.21,847.40 L206.85,821.76 M196.07,847.40 L221.71,821.76 M210.93,847.40 L236.57,821.76 M225.79,847.40 L251.43,821.76 M240.65,847.40 L266.29,821.76 M255.51,847.40 L281.15,821.76 M270.37,847.40 L296.01,821.76 M285.23,847.40 L310.87,821.76 M300.09,847.40 L325.73,821.76 M314.95,847.40 L340.59,821.76" stroke="#111" stroke-width="2.35" clip-path="url(#hc183737b)"/>
<path d="M197.56,826.75 C208.28,820.19 226.16,821.94 244.94,824.39 C261.93,826.31 284.27,821.50 298.58,823.25" fill="none" stroke="#111" stroke-width="1.0" />
<line x1="166.70" y1="671.60" x2="166.70" y2="775.39" stroke="#111" stroke-width="1.15"/>
<line x1="308.80" y1="671.60" x2="308.80" y2="737.50" stroke="#111" stroke-width="1.15"/>
<line x1="166.70" y1="684.00" x2="308.80" y2="684.00" stroke="#111" stroke-width="1.15"/>
<polygon points="166.70,684.00 174.70,682.30 174.70,685.70" fill="#111"/>
<polygon points="308.80,684.00 300.80,682.30 300.80,685.70" fill="#111"/>
<line x1="183.70" y1="690.00" x2="183.70" y2="737.50" stroke="#111" stroke-width="1.15"/>
<line x1="150.20" y1="698.90" x2="308.80" y2="698.90" stroke="#111" stroke-width="1.15"/>
<polygon points="166.70,698.90 158.70,697.20 158.70,700.60" fill="#111"/>
<polygon points="183.70,698.90 191.70,697.20 191.70,700.60" fill="#111"/>
<polygon points="308.80,698.90 300.80,697.20 300.80,700.60" fill="#111"/>
<line x1="215.26" y1="706.00" x2="215.26" y2="787.81" stroke="#111" stroke-width="1.15"/>
<line x1="183.70" y1="714.00" x2="215.26" y2="714.00" stroke="#111" stroke-width="1.15"/>
<polygon points="183.70,714.00 191.70,712.30 191.70,715.70" fill="#111"/>
<polygon points="215.26,714.00 207.26,712.30 207.26,715.70" fill="#111"/>
<line x1="277.48" y1="706.00" x2="277.48" y2="772.94" stroke="#111" stroke-width="1.15"/>
<line x1="277.48" y1="714.00" x2="308.80" y2="714.00" stroke="#111" stroke-width="1.15"/>
<polygon points="277.48,714.00 285.48,712.30 285.48,715.70" fill="#111"/>
<polygon points="308.80,714.00 300.80,712.30 300.80,715.70" fill="#111"/>
<line x1="234.40" y1="712.10" x2="264.40" y2="712.10" stroke="#111" stroke-width="1.15"/>
<line x1="234.40" y1="712.10" x2="216.69" y2="791.75" stroke="#111" stroke-width="1.15"/>
<line x1="142.40" y1="775.39" x2="167.40" y2="775.39" stroke="#111" stroke-width="1.15"/>
<line x1="142.40" y1="808.64" x2="167.40" y2="808.64" stroke="#111" stroke-width="1.15"/>
<line x1="149.10" y1="775.39" x2="149.10" y2="808.64" stroke="#111" stroke-width="1.15"/>
<polygon points="149.10,775.39 147.40,783.39 150.80,783.39" fill="#111"/>
<polygon points="149.10,808.64 147.40,800.64 150.80,800.64" fill="#111"/>
<line x1="248.16" y1="771.36" x2="248.16" y2="812.58" stroke="#111" stroke-width="0.9"/>
<polygon points="248.16,786.15 246.76,780.15 249.56,780.15" fill="#111"/>
<polygon points="248.16,798.84 246.76,804.84 249.56,804.84" fill="#111"/>
<path d="M245.74,820.62 V867.5 H255.24" fill="none" stroke="#111" stroke-width="1.15" />
<line x1="252.94" y1="856.00" x2="252.94" y2="865.00" stroke="#111" stroke-width="1.3"/>
<path d="M275.87,843.38 L273.2,867.5 H296.5" fill="none" stroke="#111" stroke-width="1.15" />
<path d="M302.7,845.56 V867.5 H321.5" fill="none" stroke="#111" stroke-width="1.15" />
<text x="196.40" y="680.10" font-size="10.8" font-weight="normal" fill="#111" stroke="#111" stroke-width="0.7" textLength="56.00" lengthAdjust="spacingAndGlyphs">A1+Stroke</text>
<text x="260.00" y="680.60" font-size="11.2" font-weight="normal" fill="#111" stroke="#111" stroke-width="0.5" letter-spacing="2">行程</text>
<text x="255.60" y="680.00" font-size="10.8" font-weight="normal" fill="#111" stroke="#111" stroke-width="0.7" textLength="3.20" lengthAdjust="spacingAndGlyphs">(</text>
<text x="288.20" y="680.00" font-size="10.8" font-weight="normal" fill="#111" stroke="#111" stroke-width="0.7" textLength="3.20" lengthAdjust="spacingAndGlyphs">)</text>
<text x="199.60" y="694.80" font-size="10.8" font-weight="normal" fill="#111" stroke="#111" stroke-width="0.7" textLength="56.00" lengthAdjust="spacingAndGlyphs">B1+Stroke</text>
<text x="263.20" y="695.30" font-size="11.2" font-weight="normal" fill="#111" stroke="#111" stroke-width="0.5" letter-spacing="2">行程</text>
<text x="258.80" y="694.70" font-size="10.8" font-weight="normal" fill="#111" stroke="#111" stroke-width="0.7" textLength="3.20" lengthAdjust="spacingAndGlyphs">(</text>
<text x="291.20" y="694.70" font-size="10.8" font-weight="normal" fill="#111" stroke="#111" stroke-width="0.7" textLength="3.20" lengthAdjust="spacingAndGlyphs">)</text>
<text x="183.40" y="695.00" font-size="10.8" font-weight="normal" fill="#111" stroke="#111" stroke-width="0.7" textLength="6.20" lengthAdjust="spacingAndGlyphs">X</text>
<text x="195.80" y="712.00" font-size="10.8" font-weight="normal" fill="#111" stroke="#111" stroke-width="0.7" textLength="6.60" lengthAdjust="spacingAndGlyphs">C</text>
<text x="291.20" y="712.00" font-size="10.8" font-weight="normal" fill="#111" stroke="#111" stroke-width="0.7" textLength="7.00" lengthAdjust="spacingAndGlyphs">D</text>
<text x="236.80" y="710.40" font-size="10.8" font-weight="normal" fill="#111" stroke="#111" stroke-width="0.7" textLength="26.00" lengthAdjust="spacingAndGlyphs">2-EE</text>
<text x="341.60" y="767.80" font-size="10.8" font-weight="normal" fill="#111" stroke="#111" stroke-width="0.7" textLength="12.40" lengthAdjust="spacingAndGlyphs">KK</text>
<text x="276.60" y="863.40" font-size="10.8" font-weight="normal" fill="#111" stroke="#111" stroke-width="0.7" textLength="22.60" lengthAdjust="spacingAndGlyphs">8-KA</text>
<text x="305.00" y="863.40" font-size="10.8" font-weight="normal" fill="#111" stroke="#111" stroke-width="0.7" textLength="17.40" lengthAdjust="spacingAndGlyphs">8-J</text>
<text transform="translate(142.70,805.60) rotate(-90)" font-size="11.6" font-weight="normal" fill="#111" stroke="#111" stroke-width="0.7" textLength="23.60" lengthAdjust="spacingAndGlyphs">ΦMM</text>
<g transform="translate(429.90,792.30) scale(0.8950,0.8770)"><path d="M-61.35,-57.20 L-54.50,-62.85 L-37.50,-62.85 L-30.40,-55.00 L30.40,-55.00 L37.50,-62.85 L55.60,-62.85 L61.35,-57.20 L61.35,-38.30 L53.20,-30.80 L53.70,-27.40 L72.70,-21.90 L72.70,21.90 L53.70,27.40 L53.20,30.80 L61.35,38.30 L61.35,57.20 L55.60,62.85 L37.50,62.85 L30.40,55.00 L-30.40,55.00 L-37.50,62.85 L-54.50,62.85 L-61.35,57.20 L-61.35,38.60 L-54.20,31.60 L-54.20,-31.60 L-61.35,-38.60 Z" fill="none" stroke="#111" stroke-width="1.9122983229210082" stroke-linejoin="miter"/>
<circle cx="0.00" cy="0.00" r="7.90" fill="none" stroke="#111" stroke-width="3.2934026672528476"/>
<circle cx="0.00" cy="0.00" r="18.40" fill="none" stroke="#111" stroke-width="3.187163871535014"/>
<circle cx="0.00" cy="0.00" r="33.40" fill="none" stroke="#111" stroke-width="1.593581935767507"/>
<circle cx="0.00" cy="0.00" r="49.80" fill="none" stroke="#111" stroke-width="1.9122983229210082"/>
<path d="M-46.22,18.53 A5.20,5.20 0 0 1 -37.16,23.56 A44.00,44.00 0 1 0 -37.22,-23.46 A5.20,5.20 0 0 1 -46.27,-18.42" fill="none" stroke="#111" stroke-width="1.6998207314853406" />
<circle cx="-41.50" cy="-20.50" r="1.90" fill="none" stroke="#111" stroke-width="1.3811043443318394"/>
<circle cx="-41.50" cy="20.70" r="1.90" fill="none" stroke="#111" stroke-width="1.3811043443318394"/>
<circle cx="-47.00" cy="-48.30" r="10.50" fill="none" stroke="#111" stroke-width="1.487343140049673"/>
<circle cx="-47.00" cy="-48.30" r="7.80" fill="none" stroke="#111" stroke-width="1.062387957178338"/>
<circle cx="-47.00" cy="-48.30" r="5.50" fill="none" stroke="#111" stroke-width="2.8684474843815124"/>
<circle cx="-47.00" cy="48.30" r="10.50" fill="none" stroke="#111" stroke-width="1.487343140049673"/>
<circle cx="-47.00" cy="48.30" r="7.80" fill="none" stroke="#111" stroke-width="1.062387957178338"/>
<circle cx="-47.00" cy="48.30" r="5.50" fill="none" stroke="#111" stroke-width="2.8684474843815124"/>
<circle cx="47.00" cy="-48.30" r="10.50" fill="none" stroke="#111" stroke-width="1.487343140049673"/>
<circle cx="47.00" cy="-48.30" r="7.80" fill="none" stroke="#111" stroke-width="1.062387957178338"/>
<circle cx="47.00" cy="-48.30" r="5.50" fill="none" stroke="#111" stroke-width="2.8684474843815124"/>
<circle cx="47.00" cy="48.30" r="10.50" fill="none" stroke="#111" stroke-width="1.487343140049673"/>
<circle cx="47.00" cy="48.30" r="7.80" fill="none" stroke="#111" stroke-width="1.062387957178338"/>
<circle cx="47.00" cy="48.30" r="5.50" fill="none" stroke="#111" stroke-width="2.8684474843815124"/>
<path d="M-11.10,-55.00 V-62.55 H-6.10 V-59.25 H-8.60 M-7.10,-57.60 V-55.00" fill="none" stroke="#111" stroke-width="1.593581935767507" stroke-linejoin="round"/>
<path d="M11.10,-55.00 V-62.55 H6.10 V-59.25 H8.60 M7.10,-57.60 V-55.00" fill="none" stroke="#111" stroke-width="1.593581935767507" stroke-linejoin="round"/>
<path d="M-11.10,55.00 V62.55 H-6.10 V59.25 H-8.60 M-7.10,57.60 V55.00" fill="none" stroke="#111" stroke-width="1.593581935767507" stroke-linejoin="round"/>
<path d="M11.10,55.00 V62.55 H6.10 V59.25 H8.60 M7.10,57.60 V55.00" fill="none" stroke="#111" stroke-width="1.593581935767507" stroke-linejoin="round"/>
<path d="M-54.20,-10.00 H-61.20 V-5.40 H-58.60 V-7.40 H-54.20" fill="none" stroke="#111" stroke-width="1.487343140049673" stroke-linejoin="round"/>
<path d="M-54.20,10.00 H-61.20 V5.40 H-58.60 V7.40 H-54.20" fill="none" stroke="#111" stroke-width="1.487343140049673" stroke-linejoin="round"/></g>
<line x1="374.99" y1="677.50" x2="374.99" y2="742.00" stroke="#111" stroke-width="1.15"/>
<line x1="494.97" y1="677.50" x2="494.97" y2="773.09" stroke="#111" stroke-width="1.15"/>
<line x1="374.99" y1="684.30" x2="494.97" y2="684.30" stroke="#111" stroke-width="1.15"/>
<polygon points="374.99,684.30 382.99,682.60 382.99,686.00" fill="#111"/>
<polygon points="494.97,684.30 486.97,682.60 486.97,686.00" fill="#111"/>
<line x1="484.81" y1="692.00" x2="484.81" y2="742.00" stroke="#111" stroke-width="1.15"/>
<line x1="374.99" y1="698.70" x2="484.81" y2="698.70" stroke="#111" stroke-width="1.15"/>
<polygon points="374.99,698.70 382.99,697.00 382.99,700.40" fill="#111"/>
<polygon points="484.81,698.70 476.81,697.00 476.81,700.40" fill="#111"/>
<line x1="387.88" y1="708.70" x2="387.88" y2="759.85" stroke="#111" stroke-width="1.15"/>
<line x1="471.92" y1="708.70" x2="471.92" y2="759.85" stroke="#111" stroke-width="1.15"/>
<line x1="387.88" y1="715.50" x2="471.92" y2="715.50" stroke="#111" stroke-width="1.15"/>
<polygon points="387.88,715.50 395.88,713.80 395.88,717.20" fill="#111"/>
<polygon points="471.92,715.50 463.92,713.80 463.92,717.20" fill="#111"/>
<line x1="415.10" y1="724.50" x2="415.10" y2="798.00" stroke="#111" stroke-width="1.15"/>
<line x1="444.90" y1="724.50" x2="444.90" y2="798.00" stroke="#111" stroke-width="1.15"/>
<line x1="415.10" y1="730.70" x2="444.90" y2="730.70" stroke="#111" stroke-width="1.15"/>
<polygon points="415.10,730.70 423.10,729.00 423.10,732.40" fill="#111"/>
<polygon points="444.90,730.70 436.90,729.00 436.90,732.40" fill="#111"/>
<line x1="429.90" y1="730.70" x2="429.90" y2="853.80" stroke="#111" stroke-width="1.15"/>
<line x1="368.00" y1="792.30" x2="398.00" y2="792.30" stroke="#111" stroke-width="1.15"/>
<line x1="400.50" y1="792.30" x2="402.50" y2="792.30" stroke="#111" stroke-width="1.15"/>
<line x1="405.00" y1="792.30" x2="455.00" y2="792.30" stroke="#111" stroke-width="1.15"/>
<line x1="458.00" y1="792.30" x2="460.00" y2="792.30" stroke="#111" stroke-width="1.15"/>
<line x1="463.00" y1="792.30" x2="509.50" y2="792.30" stroke="#111" stroke-width="1.15"/>
<line x1="484.81" y1="737.18" x2="556.80" y2="737.18" stroke="#111" stroke-width="1.15"/>
<line x1="481.00" y1="847.42" x2="556.80" y2="847.42" stroke="#111" stroke-width="1.15"/>
<line x1="550.50" y1="737.18" x2="550.50" y2="847.42" stroke="#111" stroke-width="1.15"/>
<polygon points="550.50,737.18 548.80,745.18 552.20,745.18" fill="#111"/>
<polygon points="550.50,847.42 548.80,839.42 552.20,839.42" fill="#111"/>
<line x1="461.00" y1="749.94" x2="539.00" y2="749.94" stroke="#111" stroke-width="1.15"/>
<line x1="457.00" y1="834.66" x2="539.00" y2="834.66" stroke="#111" stroke-width="1.15"/>
<line x1="533.10" y1="749.94" x2="533.10" y2="834.66" stroke="#111" stroke-width="1.15"/>
<polygon points="533.10,749.94 531.40,757.94 534.80,757.94" fill="#111"/>
<polygon points="533.10,834.66 531.40,826.66 534.80,826.66" fill="#111"/>
<line x1="494.97" y1="773.09" x2="520.50" y2="773.09" stroke="#111" stroke-width="1.15"/>
<line x1="494.97" y1="811.51" x2="520.50" y2="811.51" stroke="#111" stroke-width="1.15"/>
<line x1="514.30" y1="773.09" x2="514.30" y2="811.51" stroke="#111" stroke-width="1.15"/>
<polygon points="514.30,773.09 512.60,781.09 516.00,781.09" fill="#111"/>
<polygon points="514.30,811.51 512.60,803.51 516.00,803.51" fill="#111"/>
<line x1="376.38" y1="749.94" x2="399.38" y2="749.94" stroke="#111" stroke-width="0.8"/>
<line x1="387.88" y1="738.44" x2="387.88" y2="761.44" stroke="#111" stroke-width="0.8"/>
<line x1="376.38" y1="834.66" x2="399.38" y2="834.66" stroke="#111" stroke-width="0.8"/>
<line x1="387.88" y1="823.16" x2="387.88" y2="846.16" stroke="#111" stroke-width="0.8"/>
<line x1="460.42" y1="749.94" x2="483.42" y2="749.94" stroke="#111" stroke-width="0.8"/>
<line x1="471.92" y1="738.44" x2="471.92" y2="761.44" stroke="#111" stroke-width="0.8"/>
<line x1="460.42" y1="834.66" x2="483.42" y2="834.66" stroke="#111" stroke-width="0.8"/>
<line x1="471.92" y1="823.16" x2="471.92" y2="846.16" stroke="#111" stroke-width="0.8"/>
<path d="M342,772.2 H354.4 L430,792" fill="none" stroke="#111" stroke-width="1.0" />
<text x="426.30" y="682.00" font-size="10.8" font-weight="normal" fill="#111" stroke="#111" stroke-width="0.7" textLength="5.90" lengthAdjust="spacingAndGlyphs">G</text>
<text x="427.00" y="696.20" font-size="10.8" font-weight="normal" fill="#111" stroke="#111" stroke-width="0.7" textLength="5.00" lengthAdjust="spacingAndGlyphs">F</text>
<text x="426.30" y="713.00" font-size="10.8" font-weight="normal" fill="#111" stroke="#111" stroke-width="0.7" textLength="5.90" lengthAdjust="spacingAndGlyphs">N</text>
<text x="425.60" y="726.20" font-size="10.8" font-weight="normal" fill="#111" stroke="#111" stroke-width="0.7" textLength="6.50" lengthAdjust="spacingAndGlyphs">M</text>
<text transform="translate(513.50,795.00) rotate(-90)" font-size="10.8" font-weight="normal" fill="#111" stroke="#111" stroke-width="0.7" textLength="5.60" lengthAdjust="spacingAndGlyphs">H</text>
<text transform="translate(529.40,795.20) rotate(-90)" font-size="10.8" font-weight="normal" fill="#111" stroke="#111" stroke-width="0.7" textLength="5.90" lengthAdjust="spacingAndGlyphs">N</text>
<text transform="translate(548.80,794.40) rotate(-90)" font-size="10.8" font-weight="normal" fill="#111" stroke="#111" stroke-width="0.7" textLength="5.00" lengthAdjust="spacingAndGlyphs">F</text>
</svg>
</body></html>
